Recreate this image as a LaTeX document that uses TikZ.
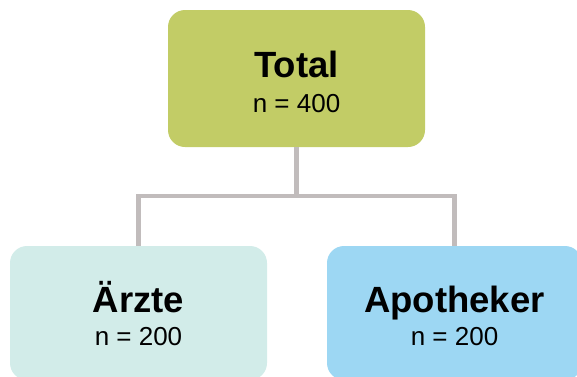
\documentclass[tikz,border=0pt]{standalone}
\usepackage{fontspec}
\setmainfont{Liberation Sans}
\definecolor{topgreen}{RGB}{194,204,102}
\definecolor{leftteal}{RGB}{210,236,233}
\definecolor{rightblue}{RGB}{157,215,243}
\definecolor{conngray}{RGB}{193,188,188}
\tikzset{
  box/.style={rectangle, rounded corners=17pt, draw=none, minimum width=257pt, minimum height=137pt, inner sep=0pt},
  lowbox/.style={box, minimum height=134pt},
  conn/.style={draw=conngray, line width=4.5pt},
  title/.style={anchor=base, inner sep=0pt, font=\fontsize{36.5}{40}\selectfont\bfseries},
  sub/.style={anchor=base, inner sep=0pt, font=\fontsize{26}{30}\selectfont}
}
\begin{document}
\begin{tikzpicture}[x=1pt,y=-1pt]
\useasboundingbox (0,0) rectangle (577,376);
\clip (0,0) rectangle (577,376);
\node[box, fill=topgreen] (total) at (296.5,78.5) {};
\node[lowbox, fill=leftteal] (aerzte) at (138.5,313) {};
\node[lowbox, fill=rightblue, minimum width=255pt] (apo) at (454.5,313) {};
\coordinate (junc) at (296.5,196);
\draw[conn] (total.south) -- (junc);
\draw[conn] (aerzte.north) |- (junc) -| (apo.north);
\node[title] (t1) at (296.5,77) {Total};
\node[sub] (n1) at (296.5,112) {n = 400};
\node[title] (t2) at (138.5,312) {Ärzte};
\node[sub] (n2) at (138.5,345) {n = 200};
\node[title] (t3) at (454.5,312) {Apotheker};
\node[sub] (n3) at (454.5,345) {n = 200};
\end{tikzpicture}
\end{document}
